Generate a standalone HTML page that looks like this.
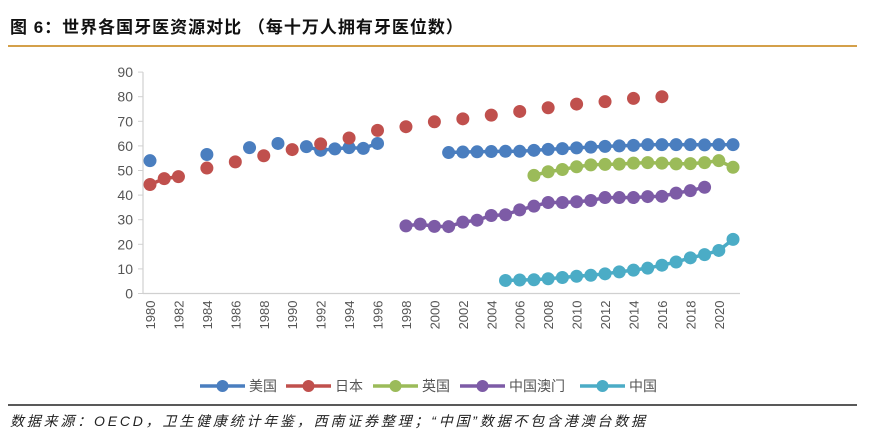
<!DOCTYPE html>
<html><head><meta charset="utf-8"><style>
body{margin:0;background:#fff;width:870px;height:439px;overflow:hidden;font-family:"Liberation Sans","Noto Sans CJK SC",sans-serif;}
</style></head><body>
<svg width="870" height="439" xmlns="http://www.w3.org/2000/svg">
<text x="10" y="33" font-size="17" letter-spacing="1" font-weight="bold" fill="#111" font-family="Liberation Sans,Noto Sans CJK SC,sans-serif">图 6：世界各国牙医资源对比 （每十万人拥有牙医位数）</text>
<line x1="8" y1="46" x2="857" y2="46" stroke="#d4a04a" stroke-width="2"/>
<g id="axes"></g>
<g id="series"></g>
<g id="legend"></g>
<line x1="8" y1="405" x2="857" y2="405" stroke="#222" stroke-width="1.5"/>
<text x="10" y="426" font-size="14" letter-spacing="2.8" font-style="italic" fill="#222" font-family="Liberation Sans,Noto Sans CJK SC,sans-serif">数据来源：OECD，卫生健康统计年鉴，西南证券整理；“中国”数据不包含港澳台数据</text>
</svg>
<script>
const yTicks=[0,10,20,30,40,50,60,70,80,90];
const xTickYears=[1980,1982,1984,1986,1988,1990,1992,1994,1996,1998,2000,2002,2004,2006,2008,2010,2012,2014,2016,2018,2020];
const usYears=[1980,1984,1987,1989,1991,1992,1993,1994,1995,1996,null,2001,2002,2003,2004,2005,2006,2007,2008,2009,2010,2011,2012,2013,2014,2015,2016,2017,2018,2019,2020,2021];
const usVals=[54,56.5,59.3,61,59.7,58.2,58.8,59.3,59,61,null,57.3,57.5,57.6,57.7,57.8,57.8,58.2,58.6,58.9,59.2,59.5,59.8,60,60.2,60.5,60.5,60.5,60.5,60.4,60.5,60.5];
const jpYears=[1980,1981,1982,1984,1986,1988,1990,1992,1994,1996,1998,2000,2002,2004,2006,2008,2010,2012,2014,2016];
const jpVals=[44.3,46.7,47.5,51,53.5,56,58.5,60.8,63.2,66.3,67.8,69.8,71,72.5,74,75.5,77,78,79.3,80];
const ukYears=[2007,2008,2009,2010,2011,2012,2013,2014,2015,2016,2017,2018,2019,2020,2021];
const ukVals=[48,49.5,50.4,51.5,52.3,52.5,52.6,53,53.2,53,52.7,52.8,53.2,54,51.3];
const moYears=[1998,1999,2000,2001,2002,2003,2004,2005,2006,2007,2008,2009,2010,2011,2012,2013,2014,2015,2016,2017,2018,2019];
const moVals=[27.5,28.2,27.3,27.2,29,29.8,31.7,32,34,35.5,37,37,37.3,37.8,39,39,39,39.4,39.5,40.8,41.8,43.2];
const cnYears=[2005,2006,2007,2008,2009,2010,2011,2012,2013,2014,2015,2016,2017,2018,2019,2020,2021];
const cnVals=[5.3,5.5,5.6,6,6.5,7,7.4,8,8.8,9.5,10.3,11.5,12.8,14.5,15.8,17.5,22];
const seriesNames=["美国","日本","英国","中国澳门","中国"];

const NS="http://www.w3.org/2000/svg";
const x=yr=>150+(yr-1980)*14.22;
const y=v=>293.5-v*2.46;
function mk(tag,attrs,parent){const e=document.createElementNS(NS,tag);for(const k in attrs)e.setAttribute(k,attrs[k]);parent.appendChild(e);return e;}
const axes=document.getElementById('axes');
let a=mk('line',{x1:143,y1:y(0),x2:740,y2:y(0),stroke:'#d0d0d0','stroke-width':1.2},axes);


a=mk('line',{x1:143,y1:y(0),x2:143,y2:y(90),stroke:'#d0d0d0','stroke-width':1.2},axes);


yTicks.forEach(t=>{
  mk('line',{x1:138,y1:y(t),x2:143,y2:y(t),stroke:'#d0d0d0'},axes);
  const tx=mk('text',{x:133,y:y(t)+5,'text-anchor':'end','font-size':14,fill:'#555'},axes);
  tx.textContent=t;
  
  
});
xTickYears.forEach(t=>{
  const tx=mk('text',{transform:`translate(${x(t)+5},${y(0)+7}) rotate(-90)`,'text-anchor':'end','font-size':13,fill:'#555'},axes);
  tx.textContent=t;
  
  
});
const colors=['#4a7ebf','#c0504d','#9bbb59','#7d5ba6','#4bacc6'];
const all=[[usYears,usVals],[jpYears,jpVals],[ukYears,ukVals],[moYears,moVals],[cnYears,cnVals]];
const sg=document.getElementById('series');
all.forEach(([ys,vs],i)=>{
  const g=mk('g',{},sg);
  
  
  for(let k=1;k<ys.length;k++){
    if(ys[k]==null||ys[k-1]==null)continue;
    if(ys[k]-ys[k-1]!==1)continue;
    mk('line',{x1:x(ys[k-1]),y1:y(vs[k-1]),x2:x(ys[k]),y2:y(vs[k]),stroke:colors[i],'stroke-width':3.5},g);
  }
  ys.forEach((yr,k)=>{
    if(yr==null)return;
    const c=mk('circle',{cx:x(yr),cy:y(vs[k]),r:6.5,fill:colors[i]},g);
    
    
  });
});
const lg=document.getElementById('legend');
const lx=[200,286,373,460,580];
seriesNames.forEach((n,i)=>{
  const g=mk('g',{},lg);
  
  
  mk('line',{x1:lx[i],y1:386,x2:lx[i]+45,y2:386,stroke:colors[i],'stroke-width':3.5},g);
  mk('circle',{cx:lx[i]+22.5,cy:386,r:6,fill:colors[i]},g);
  const t=mk('text',{x:lx[i]+49,y:391,'font-size':14,fill:'#555'},g);
  t.textContent=n;
});
</script>
</body></html>
